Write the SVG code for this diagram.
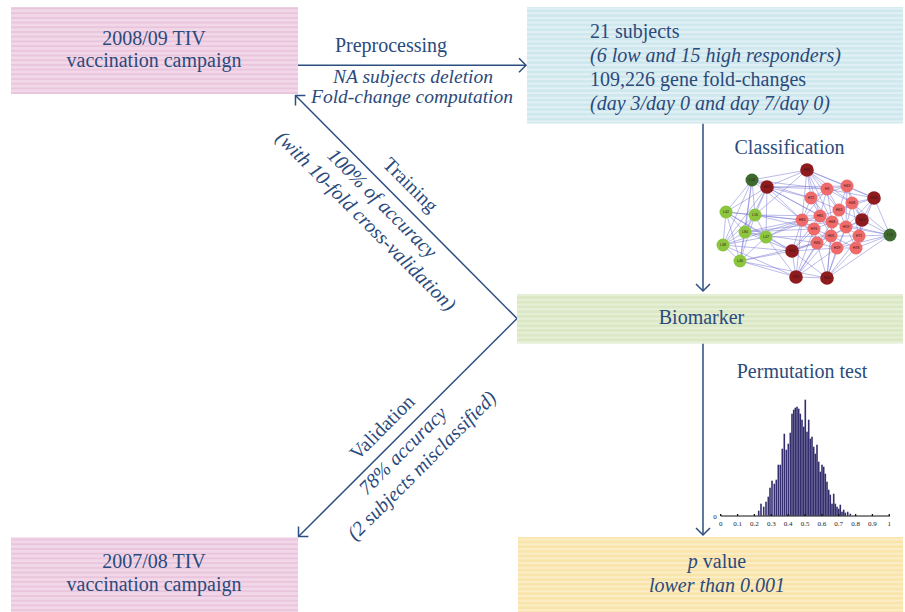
<svg xmlns="http://www.w3.org/2000/svg" width="905" height="612" viewBox="0 0 905 612">
<defs>
<pattern id="pk" width="10" height="4.7" patternUnits="userSpaceOnUse"><rect width="10" height="4.7" fill="#f2d7e9"/><rect y="3" width="10" height="1.6" fill="#e7c3db"/></pattern>
<pattern id="cy" width="10" height="4.7" patternUnits="userSpaceOnUse"><rect width="10" height="4.7" fill="#cfe8ee"/><rect y="3" width="10" height="1.6" fill="#e6f3f6"/></pattern>
<pattern id="gr" width="10" height="4.7" patternUnits="userSpaceOnUse"><rect width="10" height="4.7" fill="#dbe8c5"/><rect y="3" width="10" height="1.6" fill="#e9f1da"/></pattern>
<pattern id="ye" width="10" height="4.7" patternUnits="userSpaceOnUse"><rect width="10" height="4.7" fill="#f9e5ab"/><rect y="3" width="10" height="1.6" fill="#fcf0cc"/></pattern>
<marker id="ah" markerUnits="userSpaceOnUse" viewBox="-10 -10 20 20" markerWidth="20" markerHeight="20" refX="0" refY="0" orient="auto"><path d="M-7,-7 L0,0 L-7,7" fill="none" stroke="#2d4e80" stroke-width="1.5"/></marker>
</defs>
<style>
text{font-family:"Liberation Serif","Times New Roman",serif;fill:#2b4a7c;font-size:20px}
.c{text-anchor:middle}
.i{font-style:italic}
.sm{font-size:19.5px}
.con{stroke:#2d4e80;stroke-width:1.5;fill:none;marker-end:url(#ah)}
.ed{stroke:#7474d4;stroke-width:0.7;fill:none;opacity:0.7}
.lg{fill:#8cc63f}.dg{fill:#3e6a30}.dr{fill:#8e1b1e}.sa{fill:#ef6a6a}
.nl{font-family:"Liberation Sans",Arial,sans-serif;font-size:3.6px;fill:#3a1414;text-anchor:middle}
.tk{font-size:7px;fill:#222;text-anchor:middle}
.bar{fill:#342e6e}
</style>

<g id="connectors">
<line class="con" x1="298" y1="65.3" x2="526" y2="65.3"/>
<line class="con" x1="703" y1="123.5" x2="703" y2="291"/>
<line class="con" x1="703" y1="343.5" x2="703" y2="535"/>
<line class="con" x1="517" y1="318.5" x2="295.5" y2="95.5"/>
<line class="con" x1="517" y1="318.5" x2="298.5" y2="536.5"/>
<text class="c" x="391" y="52">Preprocessing</text>
<text class="c i sm" x="413" y="83">NA subjects deletion</text>
<text class="c i sm" x="412" y="102.5">Fold-change computation</text>
<text class="c" x="789.5" y="154">Classification</text>
<text class="c" x="802" y="378">Permutation test</text>
<g transform="rotate(45)">
<text class="c" x="421" y="-153">Training</text>
<text class="c i" x="414" y="-120">100% of accuracy</text>
<text class="c i" x="415" y="-96">(with 10-fold cross-validation)</text>
</g>
<g transform="rotate(-45)">
<text class="c" x="-32" y="579">Validation</text>
<text class="c i" x="-34" y="610">78% accuracy</text>
<text class="c i" x="-31" y="634">(2 subjects misclassified)</text>
</g>
</g>

<g id="campaign0809">
<rect x="11" y="7" width="287" height="87" fill="url(#pk)"/>
<text class="c" x="154" y="45">2008/09 TIV</text>
<text class="c" x="154" y="67">vaccination campaign</text>
</g>

<g id="subjects">
<rect x="527" y="7" width="376" height="116.5" fill="url(#cy)"/>
<text x="590" y="37.5">21 subjects</text>
<text class="i" x="590" y="61.5">(6 low and 15 high responders)</text>
<text x="590" y="85.5">109,226 gene fold-changes</text>
<text class="i" x="590" y="109.5">(day 3/day 0 and day 7/day 0)</text>
</g>

<g id="biomarker">
<rect x="517" y="294" width="386" height="49.5" fill="url(#gr)"/>
<text class="c" x="701.5" y="324">Biomarker</text>
</g>

<g id="campaign0708">
<rect x="11" y="537.3" width="287" height="74.7" fill="url(#pk)"/>
<text class="c" x="154" y="567.5">2007/08 TIV</text>
<text class="c" x="154" y="591">vaccination campaign</text>
</g>

<g id="pvalue">
<rect x="518" y="537" width="385" height="75" fill="url(#ye)"/>
<text class="c" x="717" y="568.3"><tspan class="i">p</tspan> value</text>
<text class="c i" x="717" y="592.3">lower than 0.001</text>
</g>

<g id="network">
<path class="ed" d="M752 180L726 212M752 180L755 215M752 180L745 232M752 180L723 245M752 180L767 187M752 180L807 170M752 180L802 220M752 180L811 198M752 180L740 261M752 180L827 189
M767 187L726 212M767 187L755 215M767 187L766 237M767 187L745 232M767 187L807 170M767 187L811 198M767 187L802 220M767 187L820 216M767 187L827 189M767 187L832 222M767 187L723 245M767 187L847 186
M726 212L755 215M726 212L745 232M726 212L723 245M726 212L740 261M726 212L802 220M726 212L792 251M726 212L766 237
M755 215L745 232M755 215L766 237M755 215L723 245M755 215L802 220M755 215L820 216M755 215L814 229M755 215L807 170M755 215L740 261
M745 232L766 237M745 232L723 245M745 232L740 261M745 232L802 220M745 232L814 229M745 232L792 251M745 232L817 243M745 232L832 222
M766 237L723 245M766 237L740 261M766 237L792 251M766 237L802 220M766 237L796 277M766 237L831 236M766 237L820 216
M723 245L740 261M723 245L792 251M723 245L796 277M723 245L802 220
M740 261L792 251M740 261L796 277M740 261L827 278M740 261L817 243
M807 170L827 189M807 170L847 186M807 170L811 198M807 170L839 210M807 170L820 216M807 170L802 220M807 170L852 203M807 170L874 198M807 170L832 222
M874 198L847 186M874 198L852 203M874 198L827 189M874 198L839 210M874 198L890 235M874 198L862 220M874 198L846 227M874 198L859 236
M862 220L852 203M862 220L839 210M862 220L846 227M862 220L859 236M862 220L856 248M862 220L890 235M862 220L847 186M862 220L831 236
M890 235L859 236M890 235L856 248M890 235L846 227M890 235L827 278M890 235L852 203M890 235L837 248M890 235L832 222
M792 251L802 220M792 251L814 229M792 251L817 243M792 251L796 277M792 251L827 278M792 251L820 216M792 251L831 236M792 251L837 248
M796 277L817 243M796 277L837 248M796 277L827 278M796 277L814 229M796 277L831 236M796 277L802 220M796 277L832 222
M827 278L837 248M827 278L856 248M827 278L817 243M827 278L831 236M827 278L859 236M827 278L846 227M827 278L832 222
M827 189L847 186M827 189L811 198M827 189L839 210M827 189L852 203M827 189L820 216M827 189L832 222M847 186L852 203M847 186L839 210M847 186L811 198
M811 198L820 216M811 198L802 220M811 198L839 210M811 198L832 222M852 203L839 210M852 203L846 227M852 203L859 236M839 210L820 216M839 210L832 222M839 210L846 227
M820 216L802 220M820 216L832 222M820 216L814 229M802 220L814 229M802 220L832 222M832 222L846 227M832 222L831 236M832 222L814 229M846 227L859 236M846 227L831 236M846 227L837 248
M814 229L831 236M814 229L817 243M831 236L817 243M831 236L837 248M831 236L859 236M859 236L856 248M837 248L856 248M817 243L837 248M846 227L856 248M802 220L817 243M814 229L837 248
M820 216L831 236M839 210L831 236M827 189L802 220M847 186L846 227M859 236L837 248M856 248L831 236"/>
<g>
<circle class="dg" cx="752" cy="180" r="6.5"/><text class="nl" x="752" y="181.3">L18</text>
<circle class="dr" cx="767" cy="187" r="6.8"/><text class="nl" x="767" y="188.3">H20</text>
<circle class="dr" cx="807" cy="170" r="6.8"/><text class="nl" x="807" y="171.3">H32</text>
<circle class="sa" cx="827" cy="189" r="6.5"/><text class="nl" x="827" y="190.3">H3</text>
<circle class="sa" cx="847" cy="186" r="6.5"/><text class="nl" x="847" y="187.3">H43</text>
<circle class="dr" cx="874" cy="198" r="6.8"/><text class="nl" x="874" y="199.3">H24</text>
<circle class="sa" cx="811" cy="198" r="6.5"/><text class="nl" x="811" y="199.3">H72</text>
<circle class="sa" cx="852" cy="203" r="6.5"/><text class="nl" x="852" y="204.3">H48</text>
<circle class="sa" cx="839" cy="210" r="6.5"/><text class="nl" x="839" y="211.3">H63</text>
<circle class="sa" cx="820" cy="216" r="6.5"/><text class="nl" x="820" y="217.3">H85</text>
<circle class="sa" cx="802" cy="220" r="6.5"/><text class="nl" x="802" y="221.3">H83</text>
<circle class="sa" cx="832" cy="222" r="6.5"/><text class="nl" x="832" y="223.3">H68</text>
<circle class="dr" cx="862" cy="220" r="6.8"/><text class="nl" x="862" y="221.3">H22</text>
<circle class="sa" cx="846" cy="227" r="6.5"/><text class="nl" x="846" y="228.3">H59</text>
<circle class="sa" cx="814" cy="229" r="6.5"/><text class="nl" x="814" y="230.3">H76</text>
<circle class="dg" cx="890" cy="235" r="6.5"/><text class="nl" x="890" y="236.3">L19</text>
<circle class="sa" cx="831" cy="236" r="6.5"/><text class="nl" x="831" y="237.3">H05</text>
<circle class="sa" cx="859" cy="236" r="6.5"/><text class="nl" x="859" y="237.3">H71</text>
<circle class="sa" cx="817" cy="243" r="6.5"/><text class="nl" x="817" y="244.3">H46</text>
<circle class="sa" cx="837" cy="248" r="6.5"/><text class="nl" x="837" y="249.3">H29</text>
<circle class="sa" cx="856" cy="248" r="6.5"/><text class="nl" x="856" y="249.3">H78</text>
<circle class="dr" cx="792" cy="251" r="6.8"/><text class="nl" x="792" y="252.3">H21</text>
<circle class="dr" cx="796" cy="277" r="6.8"/><text class="nl" x="796" y="278.3">H35</text>
<circle class="dr" cx="827" cy="278" r="6.8"/><text class="nl" x="827" y="279.3">H50</text>
<circle class="lg" cx="726" cy="212" r="6.5"/><text class="nl" x="726" y="213.3">L42</text>
<circle class="lg" cx="755" cy="215" r="6.5"/><text class="nl" x="755" y="216.3">L16</text>
<circle class="lg" cx="745" cy="232" r="6.5"/><text class="nl" x="745" y="233.3">L80</text>
<circle class="lg" cx="766" cy="237" r="6.5"/><text class="nl" x="766" y="238.3">L47</text>
<circle class="lg" cx="723" cy="245" r="6.5"/><text class="nl" x="723" y="246.3">L38</text>
<circle class="lg" cx="740" cy="261" r="6.5"/><text class="nl" x="740" y="262.3">L46</text>
</g>
</g>

<g id="histogram">
<g class="bar">
<rect x="757.9" y="510.7" width="1.6" height="5"/>
<rect x="760.2" y="503.7" width="1.6" height="12"/>
<rect x="762.9" y="506.7" width="1.6" height="9"/>
<rect x="765.2" y="501.7" width="1.6" height="14"/>
<rect x="767.5" y="496.7" width="1.6" height="19"/>
<rect x="769.2" y="487.7" width="1.6" height="28"/>
<rect x="771.2" y="480.7" width="1.6" height="35"/>
<rect x="773.5" y="483.7" width="1.6" height="32"/>
<rect x="775.5" y="479.7" width="1.6" height="36"/>
<rect x="777.5" y="464.7" width="1.6" height="51"/>
<rect x="779.5" y="464.7" width="1.6" height="51"/>
<rect x="781.5" y="448.7" width="1.6" height="67"/>
<rect x="783.5" y="433.7" width="1.6" height="82"/>
<rect x="785.5" y="449.7" width="1.6" height="66"/>
<rect x="787.5" y="443.7" width="1.6" height="72"/>
<rect x="789.5" y="432.7" width="1.6" height="83"/>
<rect x="791.2" y="413.7" width="1.6" height="102"/>
<rect x="792.9" y="409.7" width="1.6" height="106"/>
<rect x="794.5" y="407.7" width="1.6" height="108"/>
<rect x="796.2" y="406.7" width="1.6" height="109"/>
<rect x="797.9" y="408.7" width="1.6" height="107"/>
<rect x="799.5" y="413.7" width="1.6" height="102"/>
<rect x="801.2" y="419.7" width="1.6" height="96"/>
<rect x="802.9" y="426.7" width="1.6" height="89"/>
<rect x="804.5" y="399.7" width="1.6" height="116"/>
<rect x="806.2" y="431.7" width="1.6" height="84"/>
<rect x="807.9" y="419.7" width="1.6" height="96"/>
<rect x="809.5" y="438.7" width="1.6" height="77"/>
<rect x="811.2" y="436.7" width="1.6" height="79"/>
<rect x="812.9" y="446.7" width="1.6" height="69"/>
<rect x="814.5" y="453.7" width="1.6" height="62"/>
<rect x="816.2" y="444.7" width="1.6" height="71"/>
<rect x="817.9" y="461.7" width="1.6" height="54"/>
<rect x="819.5" y="471.7" width="1.6" height="44"/>
<rect x="821.2" y="464.7" width="1.6" height="51"/>
<rect x="822.9" y="466.7" width="1.6" height="49"/>
<rect x="824.5" y="473.7" width="1.6" height="42"/>
<rect x="826.2" y="481.7" width="1.6" height="34"/>
<rect x="827.9" y="489.7" width="1.6" height="26"/>
<rect x="829.5" y="494.7" width="1.6" height="21"/>
<rect x="831.2" y="503.7" width="1.6" height="12"/>
<rect x="832.9" y="493.7" width="1.6" height="22"/>
<rect x="834.5" y="503.7" width="1.6" height="12"/>
<rect x="836.2" y="506.7" width="1.6" height="9"/>
<rect x="837.9" y="508.7" width="1.6" height="7"/>
<rect x="839.5" y="504.7" width="1.6" height="11"/>
<rect x="841.2" y="511.7" width="1.6" height="4"/>
<rect x="842.9" y="509.7" width="1.6" height="6"/>
<rect x="844.5" y="512.7" width="1.6" height="3"/>
<rect x="846.9" y="511.7" width="1.6" height="4"/>
<rect x="849.5" y="513.7" width="1.6" height="2"/>
</g>
<line x1="720.7" y1="516" x2="890" y2="516" stroke="#111" stroke-width="1"/>
<path d="M720.7 516V514M737.6 516V514M754.4 516V514M771.3 516V514M788.1 516V514M805 516V514M821.9 516V514M838.7 516V514M855.6 516V514M872.4 516V514M889.3 516V514" stroke="#111" stroke-width="1.3"/>
<text class="tk" x="715" y="518.5">0</text>
<text class="tk" x="720.7" y="526">0</text>
<text class="tk" x="737.6" y="526">0.1</text>
<text class="tk" x="754.4" y="526">0.2</text>
<text class="tk" x="771.3" y="526">0.3</text>
<text class="tk" x="788.1" y="526">0.4</text>
<text class="tk" x="805" y="526">0.5</text>
<text class="tk" x="821.9" y="526">0.6</text>
<text class="tk" x="838.7" y="526">0.7</text>
<text class="tk" x="855.6" y="526">0.8</text>
<text class="tk" x="872.4" y="526">0.9</text>
<text class="tk" x="889.3" y="526">1</text>
</g>
</svg>
